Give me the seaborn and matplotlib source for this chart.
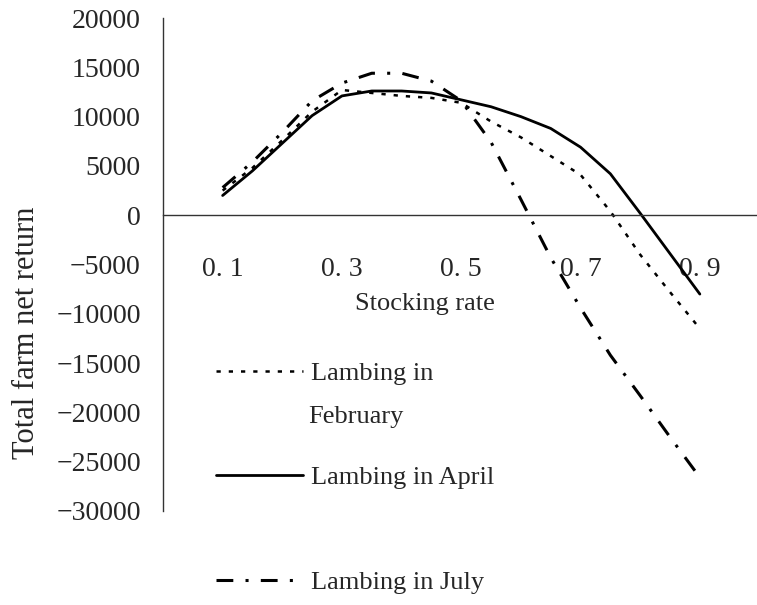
import pandas as pd
import seaborn as sns
import matplotlib.pyplot as plt

# stocking rate (x) and total farm net return for each lambing month
rate = [0.10, 0.15, 0.20, 0.25, 0.30, 0.35, 0.40, 0.45, 0.50,
        0.55, 0.60, 0.65, 0.70, 0.75, 0.80, 0.85, 0.90]
feb = [2500, 4800, 7600, 10500, 12700, 12400, 12100, 11900, 11400,
       9500, 7900, 6000, 4100, 400, -4000, -7800, -11500]
april = [2000, 4500, 7300, 10100, 12100, 12600, 12600, 12400, 11700,
         11000, 10000, 8800, 6900, 4200, 200, -3900, -8000]
july = [2800, 5400, 8400, 11600, 13400, 14400, 14400, 13600, 11600,
        7400, 1600, -4300, -9400, -14200, -18300, -22500, -26600]

y_ticks = [-30000, -25000, -20000, -15000, -10000, -5000, 0,
           5000, 10000, 15000, 20000]
y_tick_labels = ["\u221230000", "\u221225000", "\u221220000", "\u221215000",
                 "\u221210000", "\u22125000", "0", "5000", "10000", "15000", "20000"]
x_tick_marks = [0.2, 0.4, 0.6, 0.8]
x_label_pos = [0.1, 0.3, 0.5, 0.7, 0.9]
x_labels = ["0. 1", "0. 3", "0. 5", "0. 7", "0. 9"]

sns.set_style("white")
plt.rcParams['font.family'] = ['Liberation Serif', 'DejaVu Serif']

df = pd.DataFrame({"rate": rate, "feb": feb, "april": april, "july": july})

fig = plt.figure(figsize=(7.57, 6.05), dpi=100)
ax = fig.add_axes([0.2153, 0.1554, 0.788, 0.8148])

sns.lineplot(data=df, x="rate", y="feb", ax=ax, color="black",
             lw=1.8, linestyle=(0, (1.7, 3.2)))
sns.lineplot(data=df, x="rate", y="april", ax=ax, color="black", lw=2.0)
sns.lineplot(data=df, x="rate", y="july", ax=ax, color="black",
             lw=2.2, linestyle=(0, (5.5, 4.0, 1.0, 4.0)))

ax.set_xlim(0, 1.0)
ax.set_ylim(-30000, 20000)
ax.set_xlabel("")
ax.set_ylabel("")

# axes look: y axis on the left, x axis through zero
for s in ["top", "right"]:
    ax.spines[s].set_visible(False)
ax.spines["bottom"].set_position(("data", 0))
for s in ["left", "bottom"]:
    ax.spines[s].set_color("#333333")
    ax.spines[s].set_linewidth(1.0)

ax.set_yticks(y_ticks)
ax.set_yticklabels(y_tick_labels)
ax.set_xticks(x_tick_marks)
ax.set_xticklabels([])
ax.set_xticks(x_label_pos, minor=True)
ax.set_xticklabels(x_labels, minor=True)
ax.tick_params(axis="y", direction="in", length=5, width=1, color="#333333",
               pad=16, labelsize=20)
ax.tick_params(axis="x", which="major", direction="in", length=5, width=1,
               color="#333333")
ax.tick_params(axis="x", which="minor", length=0, pad=30, labelsize=20)

ax.text(0.439, 0.442, "Stocking rate", transform=ax.transAxes,
        ha="center", va="top", fontsize=19)
fig.text(27 / 757, 1 - 333 / 605, "Total farm net return", rotation=90,
         ha="center", va="center", fontsize=22)

# legend entries placed one by one, like the original
lines = ax.get_lines()
entries = [(lines[0], "Lambing in", 373), (lines[1], "Lambing in April", 477),
           (lines[2], "Lambing in July", 582)]
for h, lab, ypix in entries:
    fig.legend([h], [lab], loc="center left",
               bbox_to_anchor=(216 / 757, 1 - ypix / 605),
               frameon=False, fontsize=19, handlelength=3.3,
               handletextpad=0.3, borderpad=0, borderaxespad=0)
fig.text(308 / 757, 1 - 417 / 605, "February", va="center", fontsize=19)

fig.savefig("out.png", dpi=100)
